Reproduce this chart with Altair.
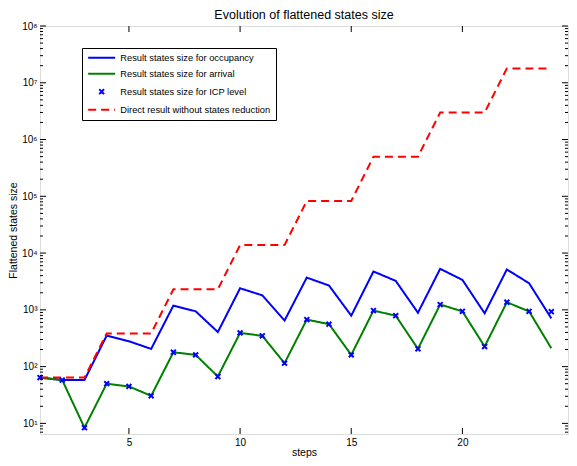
import altair as alt
import pandas as pd

# ---- data ----
steps = [1, 2, 3, 4, 5, 6, 7, 8, 9, 10, 11, 12, 13, 14, 15, 16, 17, 18, 19, 20, 21, 22, 23, 24]
occupancy = [64, 58, 58, 352, 280, 205, 1190, 944, 407, 2400, 1800, 647,
             3700, 2680, 790, 4740, 3240, 890, 5280, 3370, 870, 5140, 2940, 707]
arrival = [64, 58, 8.4, 50, 44.7, 30.6, 179, 161, 67, 393, 348, 115,
           673, 560, 161, 970, 790, 206, 1240, 940, 226, 1360, 940, 210]
icp_level = [64, 58, 8.4, 50, 44.7, 30.6, 179, 161, 67, 393, 348, 115,
             673, 560, 161, 970, 790, 206, 1240, 940, 226, 1360, 940, 927]
direct = [64, 64, 64, 384, 384, 384, 2304, 2304, 2304, 13824, 13824, 13824,
          82944, 82944, 82944, 497664, 497664, 497664, 2985984, 2985984, 2985984,
          17915904, 17915904, 17915904]

S_OCC = "Result states size for occupancy"
S_ARR = "Result states size for arrival"
S_ICP = "Result states size for ICP level"
S_DIR = "Direct result without states reduction"
SERIES = [S_OCC, S_ARR, S_ICP, S_DIR]

x_label_values = [5, 10, 15, 20, 25]
x_tick_values = [5, 10, 15, 20]
y_major = [10, 100, 1000, 10000, 100000, 1000000, 10000000, 100000000]

W, H = 528, 408
X_DOMAIN = [1, 24.75]
Y_DOMAIN = [6.5, 1e8]
y_minor = sorted(m * d for d in [1, 10, 100, 1000, 10000, 100000, 1000000, 10000000]
                 for m in [2, 3, 4, 5, 6, 7, 8, 9] if Y_DOMAIN[0] <= m * d < 1e8)
FONT = "Liberation Sans"

df_lines = pd.concat([
    pd.DataFrame({"step": steps, "value": occupancy, "series": S_OCC}),
    pd.DataFrame({"step": steps, "value": arrival, "series": S_ARR}),
    pd.DataFrame({"step": steps, "value": direct, "series": S_DIR}),
])
df_pts = pd.DataFrame({"step": steps, "value": icp_level, "series": S_ICP})
df_xt = pd.DataFrame({"step": x_tick_values})
df_ymaj = pd.DataFrame({"value": y_major})
df_ymin = pd.DataFrame({"value": y_minor})

sup = "['⁰','¹','²','³','⁴','⁵','⁶','⁷','⁸','⁹']"

X = alt.X("step:Q",
          scale=alt.Scale(domain=X_DOMAIN, nice=False, zero=False),
          axis=alt.Axis(values=x_label_values, ticks=False, domain=False, grid=False,
                        labelFont=FONT, labelFontSize=10, labelColor="black",
                        labelPadding=3, labelFlush=False,
                        title="steps", titleFont=FONT, titleFontSize=10.5,
                        titleFontWeight="normal", titleColor="black", titlePadding=0))
Y = alt.Y("value:Q",
          scale=alt.Scale(type="log", domain=Y_DOMAIN, nice=False),
          axis=alt.Axis(values=y_major, ticks=False, domain=False, grid=False,
                        labelExpr="'10' + " + sup + "[round(log(datum.value)/LN10)]",
                        labelFont=FONT, labelFontSize=10, labelColor="black",
                        labelPadding=3, labelFlush=False, labelOverlap=False,
                        title="Flattened states size", titleFont=FONT, titleFontSize=10.5,
                        titleFontWeight="normal", titleColor="black", titlePadding=3))

LINE_PATH = "M-3.857,0L3.857,0"
XPATH = "M-0.7,-0.7L0.7,0.7M-0.7,0.7L0.7,-0.7"
LEG = alt.Legend(title=None, orient="none", legendX=42, legendY=22,
                 padding=5, strokeColor="black", fillColor="white",
                 labelFont=FONT, labelFontSize=9.3, labelColor="black",
                 labelExpr="datum.label + '\u00a0'",
                 symbolSize=49, symbolStrokeWidth=2, symbolOffset=10,
                 labelOffset=14, rowPadding=6, labelLimit=400)
COLOR = alt.Color("series:N", scale=alt.Scale(domain=SERIES,
                  range=["#0000ff", "#008000", "#0000ff", "#ff0000"]), legend=LEG)
DASH = alt.StrokeDash("series:N", scale=alt.Scale(domain=SERIES,
                      range=[[1, 0], [1, 0], [1, 0], [8, 5]]), legend=LEG)
SHAPE = alt.Shape("series:N", scale=alt.Scale(domain=SERIES,
                  range=[LINE_PATH, LINE_PATH, XPATH, LINE_PATH]), legend=LEG)

lines = alt.Chart(df_lines).mark_line(strokeWidth=2).encode(
    x=X, y=Y, color=COLOR, strokeDash=DASH)
points = alt.Chart(df_pts).mark_point(filled=False, size=49, strokeWidth=2, opacity=1).encode(
    x=X, y=Y, color=COLOR, shape=SHAPE)

tick_style = dict(color="black", strokeWidth=1)
xt_bottom = alt.Chart(df_xt).mark_rule(**tick_style).encode(
    x=X, y=alt.value(H), y2=alt.value(H - 6))
xt_top = alt.Chart(df_xt).mark_rule(**tick_style).encode(
    x=X, y=alt.value(0), y2=alt.value(6))
yt_maj_l = alt.Chart(df_ymaj).mark_rule(**tick_style).encode(
    y=Y, x=alt.value(0), x2=alt.value(6))
yt_maj_r = alt.Chart(df_ymaj).mark_rule(**tick_style).encode(
    y=Y, x=alt.value(W), x2=alt.value(W - 6))
yt_min_l = alt.Chart(df_ymin).mark_rule(**tick_style).encode(
    y=Y, x=alt.value(0), x2=alt.value(3))
yt_min_r = alt.Chart(df_ymin).mark_rule(**tick_style).encode(
    y=Y, x=alt.value(W), x2=alt.value(W - 3))

chart = alt.layer(
    lines, points, xt_bottom, xt_top, yt_maj_l, yt_maj_r, yt_min_l, yt_min_r
).properties(
    width=W, height=H,
    title=alt.TitleParams("Evolution of flattened states size", font=FONT, fontSize=12.5,
                          fontWeight="normal", color="black", offset=0, anchor="middle"),
    autosize=alt.AutoSizeParams(type="none"),
    padding={"left": 32, "top": 18, "right": 1, "bottom": 24},
).configure_view(
    stroke="black", strokeWidth=1
).configure(background="white")

chart.save("out.html", embed_options={"renderer": "svg", "actions": False})
